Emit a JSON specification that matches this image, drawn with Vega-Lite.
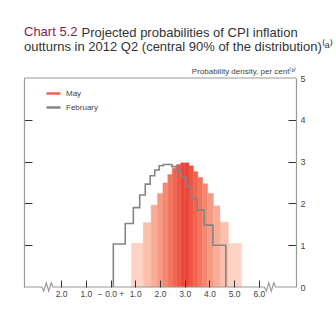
{
  "$schema": "https://vega.github.io/schema/vega-lite/v6.json",
  "padding": {"left": 21, "top": 26, "right": 0, "bottom": 0},
  "background": "white",
  "config": {"view": {"stroke": null}, "font": "Liberation Sans", "concat": {"spacing": 0}},
  "title": {"text": "Projected probabilities of CPI inflation", "anchor": "start", "color": "#333333", "font": "Liberation Sans", "fontSize": 13, "fontWeight": "normal", "offset": 0, "dx": 60, "dy": 14},
  "hconcat": [
    {
      "width": 272,
      "height": 209,
      "title": {
        "text": "Chart 5.2",
        "subtitle": "outturns in 2012 Q2 (central 90% of the distribution)\u207d\u1d43\u207e",
        "anchor": "start", "frame": "group", "font": "Liberation Sans", "fontSize": 13, "color": "#8a1b4b", "fontWeight": "normal",
        "subtitleFont": "Liberation Sans", "subtitleFontSize": 13, "subtitleColor": "#333333", "subtitlePadding": 2, "offset": 13
      },
      "resolve": {"axis": {"x": "independent", "y": "independent"}},
      "layer": [
        {
          "data": {"values": [
            {"x0": 0.845, "x1": 1.321, "density": 1.05, "shade": 1},
            {"x0": 1.321, "x1": 1.643, "density": 1.54, "shade": 2},
            {"x0": 1.643, "x1": 1.897, "density": 1.96, "shade": 3},
            {"x0": 1.897, "x1": 2.117, "density": 2.24, "shade": 4},
            {"x0": 2.117, "x1": 2.314, "density": 2.49, "shade": 5},
            {"x0": 2.314, "x1": 2.496, "density": 2.69, "shade": 6},
            {"x0": 2.496, "x1": 2.669, "density": 2.84, "shade": 7},
            {"x0": 2.669, "x1": 2.835, "density": 2.93, "shade": 8},
            {"x0": 2.835, "x1": 3.0, "density": 2.97, "shade": 9},
            {"x0": 3.0, "x1": 3.174, "density": 2.97, "shade": 9},
            {"x0": 3.174, "x1": 3.349, "density": 2.9, "shade": 8},
            {"x0": 3.349, "x1": 3.531, "density": 2.76, "shade": 7},
            {"x0": 3.531, "x1": 3.725, "density": 2.62, "shade": 6},
            {"x0": 3.725, "x1": 3.93, "density": 2.47, "shade": 5},
            {"x0": 3.93, "x1": 4.162, "density": 2.24, "shade": 4},
            {"x0": 4.162, "x1": 4.426, "density": 1.94, "shade": 3},
            {"x0": 4.426, "x1": 4.769, "density": 1.55, "shade": 2},
            {"x0": 4.769, "x1": 5.3, "density": 1.04, "shade": 1}
          ]},
          "mark": {"type": "rect", "strokeWidth": 0.4},
          "encoding": {
            "x": {"field": "x0", "type": "quantitative", "scale": {"domain": [-3.5, 7.5], "nice": false, "zero": false},
              "axis": {"orient": "bottom", "values": [-2, -1, 0, 1, 2, 3, 4, 5, 6], "domain": false, "grid": false, "title": null,
                "tickSize": -7, "tickColor": "#333333", "tickWidth": 1, "labelPadding": 9, "labelFontSize": 8.5, "labelColor": "#444444",
                "labelExpr": "datum.value == 0 ? '\u2212 0.0 +' : format(abs(datum.value), '.1f')", "zindex": 1}},
            "x2": {"field": "x1"},
            "y": {"field": "density", "type": "quantitative", "scale": {"domain": [0, 5], "nice": false},
              "axis": {"orient": "left", "values": [1, 2, 3, 4], "labels": false, "title": null, "grid": false, "tickSize": -8,
                "tickColor": "#333333", "domainColor": "#9a9a9a", "domainWidth": 1.2, "zindex": 1}},
            "y2": {"datum": 0},
            "fill": {"field": "shade", "type": "ordinal", "legend": null,
              "scale": {"domain": [1, 2, 3, 4, 5, 6, 7, 8, 9], "range": ["#fcd3c5", "#fac0ad", "#f8ad97", "#f69a83", "#f48870", "#f2765f", "#f0654f", "#ee5543", "#ec463a"]}},
            "stroke": {"field": "shade", "type": "ordinal", "legend": null,
              "scale": {"domain": [1, 2, 3, 4, 5, 6, 7, 8, 9], "range": ["#fcd3c5", "#fac0ad", "#f8ad97", "#f69a83", "#f48870", "#f2765f", "#f0654f", "#ee5543", "#ec463a"]}}
          }
        },
        {
          "data": {"values": [
            {"i": 0, "x": 0.112, "density": 0, "series": "February"},
            {"i": 1, "x": 0.112, "density": 1.03, "series": "February"},
            {"i": 2, "x": 0.595, "density": 1.52, "series": "February"},
            {"i": 3, "x": 0.922, "density": 1.9, "series": "February"},
            {"i": 4, "x": 1.18, "density": 2.2, "series": "February"},
            {"i": 5, "x": 1.404, "density": 2.46, "series": "February"},
            {"i": 6, "x": 1.603, "density": 2.66, "series": "February"},
            {"i": 7, "x": 1.788, "density": 2.8, "series": "February"},
            {"i": 8, "x": 1.964, "density": 2.9, "series": "February"},
            {"i": 9, "x": 2.132, "density": 2.93, "series": "February"},
            {"i": 10, "x": 2.3, "density": 2.93, "series": "February"},
            {"i": 11, "x": 2.481, "density": 2.88, "series": "February"},
            {"i": 12, "x": 2.663, "density": 2.78, "series": "February"},
            {"i": 13, "x": 2.852, "density": 2.62, "series": "February"},
            {"i": 14, "x": 3.052, "density": 2.4, "series": "February"},
            {"i": 15, "x": 3.267, "density": 2.12, "series": "February"},
            {"i": 16, "x": 3.508, "density": 1.84, "series": "February"},
            {"i": 17, "x": 3.787, "density": 1.48, "series": "February"},
            {"i": 18, "x": 4.14, "density": 1.0, "series": "February"},
            {"i": 19, "x": 4.66, "density": 0, "series": "February"}
          ]},
          "mark": {"type": "line", "interpolate": "step-after", "strokeWidth": 1.6},
          "encoding": {
            "x": {"field": "x", "type": "quantitative", "axis": null, "scale": {"domain": [-3.5, 7.5], "nice": false, "zero": false}},
            "y": {"field": "density", "type": "quantitative", "scale": {"domain": [0, 5], "nice": false},
              "axis": {"orient": "right", "values": [0, 1, 2, 3, 4, 5], "format": "d", "grid": false, "tickSize": -8, "tickColor": "#333333",
                "tickOpacity": {"condition": {"test": "datum.value == 0 || datum.value == 5", "value": 0}, "value": 1},
                "domainColor": "#9a9a9a", "domainWidth": 1.2, "labelPadding": 12, "labelFontSize": 9, "labelColor": "#444444",
                "title": "Probability density, per cent\u207d\u1d47\u207e", "titleAngle": 0, "titleAlign": "right", "titleBaseline": "alphabetic",
                "titleX": 0, "titleY": -5, "titleFontSize": 8, "titleFontWeight": "normal", "titleColor": "#444444", "zindex": 1}},
            "order": {"field": "i"},
            "color": {"field": "series", "type": "nominal",
              "scale": {"domain": ["May", "February"], "range": ["#f0614f", "#858585"]},
              "legend": {
                "title": null, "orient": "none", "legendX": 21, "legendY": 7, "direction": "vertical",
                "labelFont": "Liberation Sans", "labelFontSize": 8, "labelColor": "#444444",
                "symbolSize": 196, "symbolStrokeWidth": 2.5, "rowPadding": 0, "labelOffset": 4, "symbolType": "stroke"
              }}
          }
        },
        {
          "data": {"values": [
            {"i": 0, "x": -3.5, "y": 0},
            {"i": 1, "x": -2.78, "y": 0},
            {"i": 2, "x": -2.7, "y": -0.1},
            {"i": 3, "x": -2.6, "y": 0.1},
            {"i": 4, "x": -2.5, "y": -0.1},
            {"i": 5, "x": -2.4, "y": 0.1},
            {"i": 6, "x": -2.33, "y": 0},
            {"i": 7, "x": 6.22, "y": 0},
            {"i": 8, "x": 6.3, "y": -0.1},
            {"i": 9, "x": 6.4, "y": 0.1},
            {"i": 10, "x": 6.5, "y": -0.1},
            {"i": 11, "x": 6.6, "y": 0.1},
            {"i": 12, "x": 6.68, "y": 0},
            {"i": 13, "x": 7.5, "y": 0}
          ]},
          "mark": {"type": "line", "color": "#9a9a9a", "strokeWidth": 1.2},
          "encoding": {
            "x": {"field": "x", "type": "quantitative", "axis": null, "scale": {"domain": [-3.5, 7.5], "nice": false, "zero": false}},
            "y": {"field": "y", "type": "quantitative", "axis": null, "scale": {"domain": [0, 5], "nice": false}},
            "order": {"field": "i"}
          }
        },
        {
          "data": {"values": [{"top": 5}]},
          "mark": {"type": "rule", "color": "#9a9a9a", "strokeWidth": 1.2},
          "encoding": {
            "y": {"field": "top", "type": "quantitative", "axis": null, "scale": {"domain": [0, 5], "nice": false}}
          }
        }
      ]
    }
  ]
}
